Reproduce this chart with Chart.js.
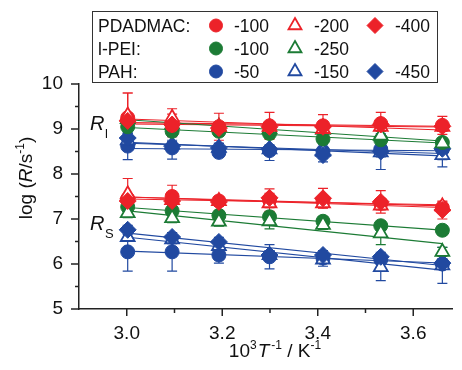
<!DOCTYPE html>
<html>
<head>
<meta charset="utf-8">
<script src="https://cdn.jsdelivr.net/npm/chart.js@4/dist/chart.umd.min.js"></script>
<style>
  body { margin: 0; background: #fff; }
  #wrap { width: 462px; height: 370px; }
</style>
</head>
<body>
<div id="wrap"><canvas id="rateChart" width="462" height="370"></canvas></div>
<script>
// 10^3 T^-1 for 60 ... 0 degC
const invT = [3.002, 3.095, 3.193, 3.299, 3.411, 3.532, 3.661];
const xTicks = [3.0, 3.2, 3.4, 3.6];
const yTicks = [5, 6, 7, 8, 9, 10];
const rowLabels = ['PDADMAC:', 'l-PEI:', 'PAH:'];

// log R_l
const rlPdadmac100 = [9.25, 9.08, 9.05, 9.07, 9.07, 9.12, 9.08];
const rlPdadmac200 = [9.30, 9.25, 9.05, 9.05, 9.00, 9.05, 9.05];
const rlPdadmac400 = [9.18, 9.10, 9.02, 9.05, 9.05, 9.10, 9.06];
const rlPei100 = [9.05, 8.95, 8.95, 8.90, 8.78, 8.76, 8.70];
const rlPei250 = [9.22, 9.10, 9.05, 9.00, 8.98, 8.85, 8.68];
const rlPah50 = [8.62, 8.58, 8.48, 8.52, 8.50, 8.55, 8.55];
const rlPah150 = [8.75, 8.65, 8.58, 8.55, 8.50, 8.48, 8.42];
const rlPah450 = [8.80, 8.62, 8.58, 8.55, 8.42, 8.50, 8.56];

// log R_s
const rsPdadmac100 = [7.45, 7.50, 7.40, 7.42, 7.40, 7.35, 7.25];
const rsPdadmac200 = [7.55, 7.42, 7.40, 7.35, 7.35, 7.30, 7.28];
const rsPdadmac400 = [7.40, 7.40, 7.38, 7.47, 7.46, 7.38, 7.20];
const rsPei100 = [7.27, 7.18, 7.08, 7.05, 6.95, 6.85, 6.75];
const rsPei250 = [7.13, 7.02, 6.94, 6.95, 6.87, 6.68, 6.27];
const rsPah50 = [6.27, 6.27, 6.20, 6.16, 6.13, 6.10, 6.00];
const rsPah150 = [6.60, 6.55, 6.40, 6.20, 6.10, 5.93, 5.97];
const rsPah450 = [6.76, 6.60, 6.49, 6.20, 6.20, 6.16, 6.02];

// error bars (+/-)
const elPdadmac100 = [0.55, 0.25, 0.30, 0.30, 0.25, 0.25, 0.20];
const elPdadmac200 = [0.50, 0.20, 0.10, 0.10, 0.10, 0.10, 0.10];
const elPdadmac400 = [0.10, 0.10, 0.10, 0.10, 0.10, 0.10, 0.10];
const elPei100 = [0.10, 0.10, 0.10, 0.10, 0.10, 0.10, 0.10];
const elPei250 = [0.10, 0.10, 0.10, 0.10, 0.10, 0.10, 0.10];
const elPah50 = [0.30, 0.25, 0.10, 0.10, 0.10, 0.10, 0.10];
const elPah150 = [0.15, 0.10, 0.10, 0.25, 0.15, 0.10, 0.10];
const elPah450 = [0.10, 0.10, 0.10, 0.10, 0.15, 0.40, 0.40];
const esPdadmac100 = [0.10, 0.25, 0.10, 0.25, 0.10, 0.10, 0.10];
const esPdadmac200 = [0.35, 0.10, 0.10, 0.10, 0.10, 0.10, 0.10];
const esPdadmac400 = [0.10, 0.10, 0.10, 0.10, 0.22, 0.25, 0.20];
const esPei100 = [0.10, 0.10, 0.10, 0.10, 0.10, 0.10, 0.10];
const esPei250 = [0.10, 0.10, 0.10, 0.17, 0.10, 0.25, 0.10];
const esPah50 = [0.43, 0.43, 0.18, 0.27, 0.10, 0.10, 0.10];
const esPah150 = [0.10, 0.10, 0.10, 0.10, 0.15, 0.30, 0.40];
const esPah450 = [0.10, 0.10, 0.10, 0.10, 0.10, 0.10, 0.10];

const RED = '#ec2229', GREEN = '#1c7b35', BLUE = '#2149a0';
const FONT = '"Liberation Sans", Arial, sans-serif';

// drawn bottom -> top
const series = [
  { row: 2, col: 0, label: '-50', shape: 'circle', color: BLUE, rl: rlPah50, rs: rsPah50, el: elPah50, es: esPah50 },
  { row: 2, col: 1, label: '-150', shape: 'triangle', color: BLUE, rl: rlPah150, rs: rsPah150, el: elPah150, es: esPah150 },
  { row: 2, col: 2, label: '-450', shape: 'rectRot', color: BLUE, rl: rlPah450, rs: rsPah450, el: elPah450, es: esPah450 },
  { row: 1, col: 0, label: '-100', shape: 'circle', color: GREEN, rl: rlPei100, rs: rsPei100, el: elPei100, es: esPei100 },
  { row: 1, col: 1, label: '-250', shape: 'triangle', color: GREEN, rl: rlPei250, rs: rsPei250, el: elPei250, es: esPei250 },
  { row: 0, col: 0, label: '-100', shape: 'circle', color: RED, rl: rlPdadmac100, rs: rsPdadmac100, el: elPdadmac100, es: esPdadmac100 },
  { row: 0, col: 1, label: '-200', shape: 'triangle', color: RED, rl: rlPdadmac200, rs: rsPdadmac200, el: elPdadmac200, es: esPdadmac200 },
  { row: 0, col: 2, label: '-400', shape: 'rectRot', color: RED, rl: rlPdadmac400, rs: rsPdadmac400, el: elPdadmac400, es: esPdadmac400 },
];

function radiusOf(shape) {
  if (shape === 'circle') return 7;
  if (shape === 'triangle') return 8;
  return 8.5;
}

function linFit(xs, ys) {
  const n = xs.length;
  const mx = xs.reduce((a, b) => a + b, 0) / n;
  const my = ys.reduce((a, b) => a + b, 0) / n;
  let sxy = 0, sxx = 0;
  for (let i = 0; i < n; i++) {
    sxy += (xs[i] - mx) * (ys[i] - my);
    sxx += (xs[i] - mx) * (xs[i] - mx);
  }
  const k = sxy / sxx;
  return x => my + k * (x - mx);
}

const datasets = [];
series.forEach((s, idx) => {
  [[s.rl, s.el], [s.rs, s.es]].forEach(([vals, errs]) => {
    const f = linFit(invT, vals);
    const xa = invT[0], xb = invT[invT.length - 1];
    datasets.push({
      type: 'scatter', showLine: true,
      data: [{ x: xa, y: f(xa) }, { x: xb, y: f(xb) }],
      borderColor: s.color, borderWidth: 1.1, pointRadius: 0,
      order: 1000
    });
    const open = s.shape === 'triangle';
    datasets.push({
      type: 'scatter',
      data: invT.map((x, i) => ({ x: x, y: vals[i] })),
      errs: errs,
      pointStyle: s.shape,
      pointRadius: radiusOf(s.shape),
      pointBackgroundColor: open ? '#fff' : s.color,
      pointBorderColor: s.color,
      pointBorderWidth: open ? 1.8 : 1,
      order: 100 - idx
    });
  });
});

function drawRich(ctx, parts, x, y) {
  let w = 0;
  parts.forEach(p => { ctx.font = p.font; w += ctx.measureText(p.t).width + (p.gap || 0); });
  let cx = x - w / 2;
  ctx.textAlign = 'left';
  ctx.textBaseline = 'alphabetic';
  parts.forEach(p => {
    ctx.font = p.font;
    ctx.fillText(p.t, cx, y + (p.dy || 0));
    cx += ctx.measureText(p.t).width + (p.gap || 0);
  });
}

const decorPlugin = {
  id: 'decor',
  beforeDatasetsDraw(chart) {
    const { ctx, scales: { x, y } } = chart;
    ctx.save();
    chart.data.datasets.forEach(ds => {
      if (!ds.errs) return;
      ctx.strokeStyle = ds.pointBorderColor;
      ctx.lineWidth = 1.2;
      ds.data.forEach((p, i) => {
        const px = x.getPixelForValue(p.x);
        const top = y.getPixelForValue(p.y + ds.errs[i]);
        const bot = y.getPixelForValue(p.y - ds.errs[i]);
        ctx.beginPath();
        ctx.moveTo(px, top); ctx.lineTo(px, bot);
        ctx.moveTo(px - 5, top); ctx.lineTo(px + 5, top);
        ctx.moveTo(px - 5, bot); ctx.lineTo(px + 5, bot);
        ctx.stroke();
      });
    });
    ctx.restore();
  },
  afterDraw(chart) {
    const { ctx, scales: { x, y }, chartArea } = chart;
    ctx.save();
    ctx.strokeStyle = '#222';
    ctx.lineWidth = 1.5;
    // ticks, outward
    for (let v = 3.0; v < 3.65; v += 0.1) {
      const major = xTicks.some(t => Math.abs(t - v) < 1e-6);
      const px = x.getPixelForValue(v);
      ctx.beginPath();
      ctx.moveTo(px, chartArea.bottom);
      ctx.lineTo(px, chartArea.bottom + (major ? 7 : 4));
      ctx.stroke();
    }
    for (let v = 5; v <= 10; v += 0.5) {
      const major = Number.isInteger(v);
      const py = y.getPixelForValue(v);
      ctx.beginPath();
      ctx.moveTo(chartArea.left, py);
      ctx.lineTo(chartArea.left - (major ? 8 : 4), py);
      ctx.stroke();
    }

    ctx.fillStyle = '#111';
    // axis titles
    const base = '19px ' + FONT, ital = 'italic 19px ' + FONT, sup = '12px ' + FONT;
    drawRich(ctx, [
      { t: '10', font: base }, { t: '3', font: sup, dy: -8, gap: 1 },
      { t: 'T', font: ital, gap: 2 }, { t: '-1', font: sup, dy: -8 },
      { t: ' / K', font: base }, { t: '-1', font: sup, dy: -8 }
    ], 275, 357);
    ctx.save();
    ctx.translate(32, 178);
    ctx.rotate(-Math.PI / 2);
    drawRich(ctx, [
      { t: 'log (', font: base }, { t: 'R', font: ital },
      { t: '/s', font: base }, { t: '-1', font: sup, dy: -8 }, { t: ')', font: base }
    ], 0, 0);
    ctx.restore();

    // R_l and R_s labels
    ctx.textAlign = 'left';
    ctx.font = 'italic 20px ' + FONT;
    ctx.fillText('R', 90, 130);
    ctx.fillText('R', 90, 230);
    ctx.font = '13px ' + FONT;
    ctx.fillText('l', 105, 138);
    ctx.fillText('S', 105, 238);

    // legend
    ctx.strokeStyle = '#333';
    ctx.lineWidth = 1;
    ctx.strokeRect(92.5, 11.5, 345, 71);
    const rowBase = [32, 55, 78];
    const colMark = [216, 295, 375];
    const colText = [234, 314, 395];
    ctx.font = '17.5px ' + FONT;
    ctx.fillStyle = '#111';
    rowLabels.forEach((t, r) => ctx.fillText(t, 98, rowBase[r]));
    series.forEach(s => {
      const my = rowBase[s.row] - 6.5;
      const open = s.shape === 'triangle';
      ctx.fillStyle = open ? '#fff' : s.color;
      ctx.strokeStyle = s.color;
      ctx.lineWidth = open ? 1.8 : 1;
      Chart.helpers.drawPoint(ctx, { pointStyle: s.shape, radius: radiusOf(s.shape) - 0.5, borderWidth: ctx.lineWidth }, colMark[s.col], my);
      ctx.fillStyle = '#111';
      ctx.font = '17.5px ' + FONT;
      ctx.fillText(s.label, colText[s.col], rowBase[s.row]);
    });
    ctx.restore();
  }
};

new Chart(document.getElementById('rateChart'), {
  type: 'scatter',
  data: { datasets: datasets },
  options: {
    responsive: false,
    animation: false,
    layout: { padding: { top: 84, right: 0, left: 0, bottom: 0 } },
    plugins: { legend: { display: false }, tooltip: { enabled: false } },
    scales: {
      x: {
        type: 'linear', min: 2.9, max: 3.6816,
        afterBuildTicks: s => { s.ticks = xTicks.map(v => ({ value: v })); },
        afterFit: s => { s.height = 61; },
        ticks: { font: { size: 19, family: FONT }, color: '#111', padding: 13, maxRotation: 0, autoSkip: false, callback: v => v.toFixed(1) },
        grid: { display: false, drawTicks: false },
        border: { color: '#222', width: 1.5 }
      },
      y: {
        type: 'linear', min: 5, max: 10,
        afterBuildTicks: s => { s.ticks = yTicks.map(v => ({ value: v })); },
        afterFit: s => { s.width = 79; },
        ticks: { font: { size: 19, family: FONT }, color: '#111', padding: 16, callback: v => String(v) },
        grid: { display: false, drawTicks: false },
        border: { color: '#222', width: 1.5 }
      }
    }
  },
  plugins: [decorPlugin]
});
</script>
</body>
</html>
